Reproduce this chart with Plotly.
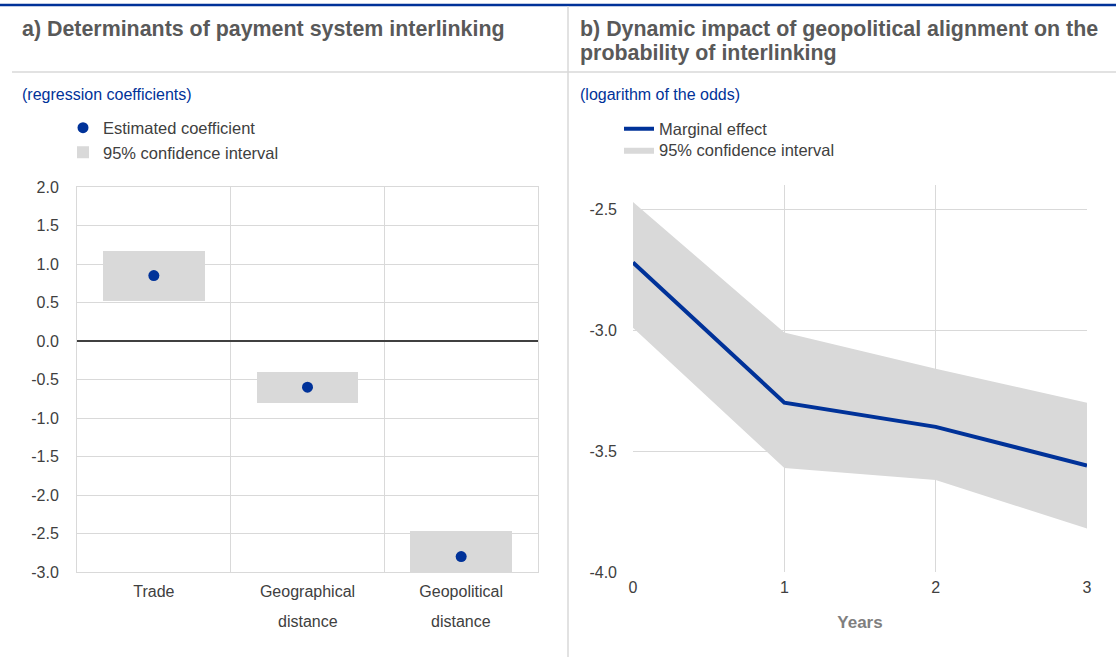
import plotly.graph_objects as go

# a) regression coefficients with 95% confidence intervals
categories = ["Trade", "Geographical distance", "Geopolitical distance"]
coef = [0.85, -0.60, -2.80]
ci_low = [0.52, -0.80, -3.15]
ci_high = [1.17, -0.40, -2.47]
left_ticks = [-3.0, -2.5, -2.0, -1.5, -1.0, -0.5, 0.0, 0.5, 1.0, 1.5, 2.0]

# b) marginal effect by years with band
years = [0, 1, 2, 3]
marginal = [-2.72, -3.30, -3.40, -3.56]
band_low = [-2.99, -3.57, -3.62, -3.82]
band_high = [-2.47, -3.01, -3.16, -3.30]
right_ticks = [-4.0, -3.5, -3.0, -2.5]

BLUE = "#003299"
GREY = "#d9d9d9"
TXT = "#404040"
FONT = "Arial, Liberation Sans, sans-serif"
W, H = 1116, 657


def px(x):
    return x / W


def py(y):
    return 1 - y / H


xpos = list(range(len(categories)))
# category labels wrap onto a second, widely spaced line
first_line = [c.split(" ", 1)[0] for c in categories]
second_line = [c.split(" ", 1)[1] if " " in c else "" for c in categories]

fig = go.Figure()

fig.add_trace(go.Bar(x=xpos, y=[h - l for l, h in zip(ci_low, ci_high)], base=ci_low,
                     width=0.66, marker=dict(color=GREY, line_width=0),
                     name="95% confidence interval", legend="legend", legendrank=2,
                     xaxis="x", yaxis="y"))
fig.add_trace(go.Scatter(x=xpos, y=coef, mode="markers",
                         marker=dict(color=BLUE, size=11),
                         name="Estimated coefficient", legend="legend", legendrank=1,
                         xaxis="x", yaxis="y"))

fig.add_trace(go.Scatter(x=years, y=band_high, mode="lines", line=dict(width=0, color=GREY),
                         showlegend=False, xaxis="x2", yaxis="y2", hoverinfo="skip"))
fig.add_trace(go.Scatter(x=years, y=band_low, mode="lines", line=dict(width=0, color=GREY),
                         fill="tonexty", fillcolor=GREY,
                         name="95% confidence interval", legend="legend3",
                         xaxis="x2", yaxis="y2"))
fig.add_trace(go.Scatter(x=years, y=marginal, mode="lines", line=dict(width=4, color=BLUE),
                         name="Marginal effect", legend="legend2",
                         xaxis="x2", yaxis="y2"))

tickfont = dict(family=FONT, size=16, color=TXT)
legfont = dict(family=FONT, size=16.5, color=TXT)
leg_common = dict(xanchor="left", yanchor="middle", bgcolor="rgba(0,0,0,0)",
                  font=legfont, traceorder="normal", itemclick=False, itemdoubleclick=False)

fig.update_layout(
    width=W, height=H,
    margin=dict(l=0, r=0, t=0, b=0, autoexpand=False),
    paper_bgcolor="white", plot_bgcolor="white",
    font=dict(family=FONT, size=16, color=TXT),
    bargap=0,
    xaxis=dict(domain=[px(77), px(538)], range=[-0.5, 2.5],
               tickvals=xpos, ticktext=first_line, showgrid=False,
               minor=dict(tickvals=[0.5, 1.5], showgrid=True, gridcolor=GREY, gridwidth=1),
               showline=True, linecolor=GREY, linewidth=1, mirror=True,
               zeroline=False, tickfont=tickfont, ticklabelstandoff=5, fixedrange=True),
    yaxis=dict(domain=[py(572), py(187)], range=[-3, 2],
               tickvals=left_ticks, ticktext=[f"{v:.1f}" for v in left_ticks],
               gridcolor=GREY, gridwidth=1, zeroline=False,
               showline=True, linecolor=GREY, linewidth=1, mirror=True,
               tickfont=tickfont, ticklabelstandoff=14, fixedrange=True),
    xaxis2=dict(domain=[px(633), px(1087)], range=[0, 3], anchor="y2",
                tickvals=years, ticktext=[str(v) for v in years],
                gridcolor=GREY, gridwidth=1, zeroline=False, showline=False,
                tickfont=tickfont, ticklabelstandoff=4, fixedrange=True,
                title=dict(text="<b>Years</b>", font=dict(family=FONT, size=17, color="#7f7f7f"),
                           standoff=21)),
    yaxis2=dict(domain=[py(572), py(185)], range=[-4.0, -2.4], anchor="x2",
                tickvals=right_ticks, ticktext=[f"{v:.1f}" for v in right_ticks],
                gridcolor=GREY, gridwidth=1, zeroline=False, showline=False,
                tickfont=tickfont, ticklabelstandoff=15, fixedrange=True),
    legend=dict(x=px(63), y=py(140), **leg_common),
    legend2=dict(x=px(619), y=py(129), **leg_common),
    legend3=dict(x=px(619), y=py(150), **leg_common),
)

for xv, text in zip(xpos, second_line):
    if text:
        fig.add_annotation(x=xv, y=py(621), xref="x", yref="paper", yanchor="middle",
                           text=text, showarrow=False, font=tickfont)

# zero line on the left panel
fig.add_shape(type="line", xref="x domain", yref="y", x0=0, x1=1, y0=0, y1=0,
              line=dict(color="#404040", width=2))

# header frame
fig.add_shape(type="line", xref="paper", yref="paper", x0=0, x1=1, y0=py(5), y1=py(5),
              line=dict(color=BLUE, width=2.5))
fig.add_shape(type="line", xref="paper", yref="paper", x0=px(12), x1=1, y0=py(72), y1=py(72),
              line=dict(color=GREY, width=1.5))
fig.add_shape(type="line", xref="paper", yref="paper", x0=px(568), x1=px(568), y0=0, y1=py(6),
              line=dict(color=GREY, width=1.5))

title_font = dict(family=FONT, size=21.4, color="#595959")
titles = [
    (20, 29, "<b>a) Determinants of payment system interlinking</b>"),
    (578, 29, "<b>b) Dynamic impact of geopolitical alignment on the</b>"),
    (578, 53, "<b>probability of interlinking</b>"),
]
for tx, ty, text in titles:
    fig.add_annotation(x=px(tx), y=py(ty), xref="paper", yref="paper",
                       xanchor="left", yanchor="middle", text=text,
                       showarrow=False, font=title_font)

sub_font = dict(family=FONT, size=16, color=BLUE)
fig.add_annotation(x=px(20), y=py(95), xref="paper", yref="paper", xanchor="left", yanchor="middle",
                   text="(regression coefficients)", showarrow=False, font=sub_font)
fig.add_annotation(x=px(578), y=py(95), xref="paper", yref="paper", xanchor="left", yanchor="middle",
                   text="(logarithm of the odds)", showarrow=False, font=sub_font)

# the page body has a default 8px margin; drop it so the figure fills the window
fig.write_html("out.html", config={"displayModeBar": False},
               post_script="document.body.style.margin = '0';")
